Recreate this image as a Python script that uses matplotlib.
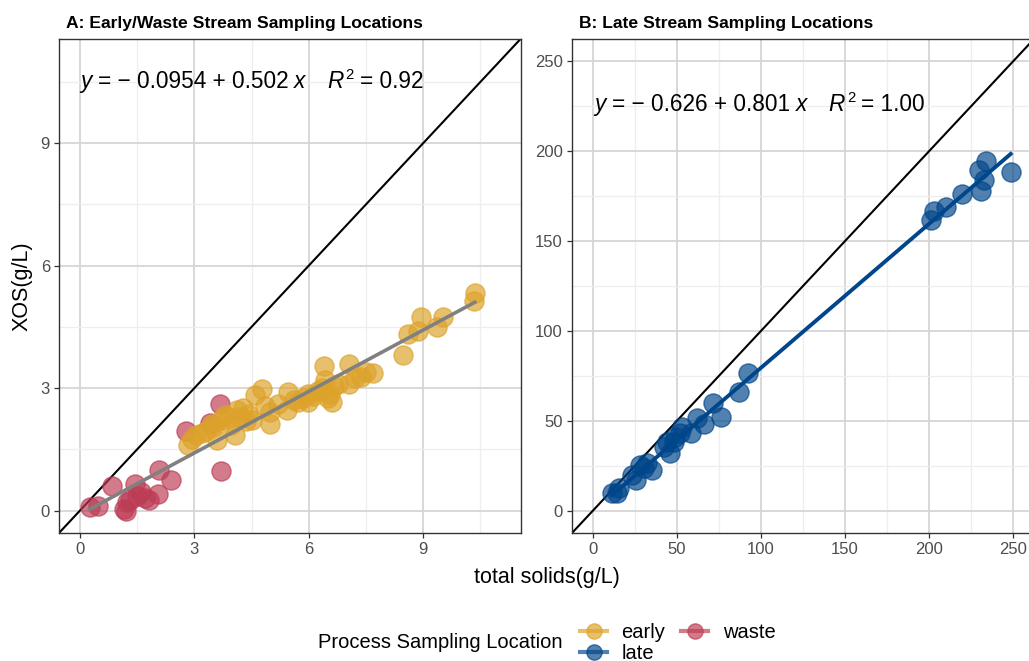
import matplotlib
matplotlib.use("Agg")
import matplotlib.pyplot as plt
from matplotlib.lines import Line2D
from matplotlib.ticker import MultipleLocator
import numpy as np

plt.rcParams['font.family'] = ['Liberation Sans', 'DejaVu Sans']

# ---- data: total solids (g/L) vs XOS (g/L) ----
early_x = [2.84, 2.93, 3.05, 3.19, 3.30, 3.45, 3.50, 3.58, 3.71, 3.80, 3.89, 3.95,
           4.06, 4.11, 4.20, 4.28, 4.35, 4.41, 4.50, 4.59, 4.76, 4.85, 4.98, 4.98,
           5.20, 5.43, 5.46, 5.60, 5.72, 5.85, 5.99, 5.99, 6.10, 6.25, 6.35, 6.40,
           6.42, 6.50, 6.55, 6.60, 6.65, 6.77, 7.05, 7.05, 7.20, 7.38, 7.50, 7.69,
           8.46, 8.59, 8.87, 8.93, 9.35, 9.51, 10.34, 10.35]
early_y = [1.60, 1.76, 1.85, 1.89, 1.95, 2.13, 2.05, 1.72, 2.21, 2.35, 2.29, 2.10,
           1.85, 2.46, 2.30, 2.50, 2.20, 2.37, 2.21, 2.82, 2.98, 2.55, 2.41, 2.13,
           2.60, 2.46, 2.90, 2.70, 2.66, 2.75, 2.66, 2.86, 2.80, 2.94, 3.00, 3.53,
           3.19, 2.75, 2.86, 2.66, 3.05, 3.11, 3.59, 3.11, 3.25, 3.27, 3.40, 3.37,
           3.81, 4.33, 4.41, 4.73, 4.49, 4.73, 5.14, 5.34]

waste_x = [0.25, 0.48, 0.83, 1.15, 1.20, 1.22, 1.30, 1.45, 1.50, 1.60, 1.70, 1.80,
           2.05, 2.07, 2.38, 2.78, 3.41, 3.67, 3.69]
waste_y = [0.08, 0.12, 0.61, 0.05, 0.00, 0.20, 0.25, 0.65, 0.35, 0.45, 0.30, 0.27,
           0.40, 0.99, 0.75, 1.94, 2.15, 2.62, 0.97]

late_x = [11.3, 14.3, 15.3, 23.2, 25.8, 28.2, 30.2, 32.2, 35.1, 42.1, 44.1, 46.1,
          48.1, 49.0, 52.0, 53.0, 58.4, 62.0, 66.3, 71.5, 75.9, 87.2, 92.1,
          201.3, 202.9, 209.9, 219.4, 229.7, 230.7, 232.7, 233.7, 248.6]
late_y = [9.6, 9.6, 12.4, 19.8, 17.0, 25.4, 23.5, 26.3, 22.6, 35.6, 38.3, 31.9,
          38.3, 41.1, 43.0, 46.7, 43.0, 51.3, 48.1, 59.6, 52.2, 66.1, 76.3,
          161.9, 167.0, 168.9, 176.3, 189.3, 177.8, 184.1, 194.8, 188.7]

# fitted models shown in the panels
fit_a = dict(intercept=-0.0954, slope=0.502, r2=0.92)
fit_b = dict(intercept=-0.626, slope=0.801, r2=1.00)

c_early = '#DDA22A'
c_waste = '#BC3C55'
c_late = '#00468B'
c_fit_a = '#808080'

W, H = 1029, 661
fig = plt.figure(figsize=(W / 100, H / 100), dpi=100)


def px_axes(l, t, r, b):
    return fig.add_axes([l / W, 1 - b / H, (r - l) / W, (b - t) / H])


axA = px_axes(59, 39, 520.5, 533)
axB = px_axes(572, 39, 1034, 533)


def style(ax, lim, major, minor):
    ax.set_xlim(*lim)
    ax.set_ylim(*lim)
    ax.xaxis.set_major_locator(MultipleLocator(major))
    ax.yaxis.set_major_locator(MultipleLocator(major))
    ax.xaxis.set_minor_locator(MultipleLocator(minor))
    ax.yaxis.set_minor_locator(MultipleLocator(minor))
    ax.grid(which='major', color='#D6D6D6', lw=1.3, zorder=0)
    ax.grid(which='minor', color='#EEEEEE', lw=0.9, zorder=0)
    ax.set_axisbelow(True)
    ax.tick_params(which='major', length=3.5, width=0.9, color='#333333',
                   labelsize=12, labelcolor='#4D4D4D', pad=3)
    ax.tick_params(which='minor', length=0)
    for s in ax.spines.values():
        s.set_color('#333333')
        s.set_linewidth(1.0)


style(axA, (-0.55, 11.55), 3, 1.5)
style(axB, (-12.5, 262.5), 50, 25)

mkw = dict(s=190, alpha=0.68, linewidths=1.0, zorder=3)


def equation(ax, x, y, f, nd, size=16.3):
    """Write 'y = b0 + b1 x   R^2 = r2' as a chain of text pieces."""
    b0 = f'{abs(f["intercept"]):.{nd}f}'
    sign = '\u2212' if f['intercept'] < 0 else '+'
    body = f'= {sign} {b0} + {f["slope"]:.3f}'
    kw = dict(fontsize=size, color='black', textcoords='offset points')
    t_y = ax.text(x, y, 'y', transform=ax.transAxes, fontsize=size, style='italic',
                  va='baseline', ha='left', color='black')
    t_b = ax.annotate(body, xy=(1, 0), xycoords=t_y, xytext=(4.5, 0), va='bottom', **kw)
    t_x = ax.annotate('x', xy=(1, 0), xycoords=t_b, xytext=(4, 0), va='bottom',
                      style='italic', **kw)
    t_r = ax.annotate('R', xy=(1, 0), xycoords=t_x, xytext=(15.5, 0), va='bottom',
                      style='italic', **kw)
    kw2 = dict(kw, fontsize=size * 0.66)
    t_2 = ax.annotate('2', xy=(1, 0), xycoords=t_r, xytext=(1.5, 7.7), va='bottom', **kw2)
    ax.annotate(f'= {f["r2"]:.2f}', xy=(1, 0), xycoords=(t_2, t_r), xytext=(4.5, 0),
                va='bottom', **kw)


# panel A
axA.axline((0, 0), slope=1, color='black', lw=1.5, zorder=2)
axA.scatter(waste_x, waste_y, color=c_waste, **mkw)
axA.scatter(early_x, early_y, color=c_early, **mkw)
all_x = early_x + waste_x
xa = np.array([min(all_x), max(all_x)])
axA.plot(xa, fit_a['intercept'] + fit_a['slope'] * xa, color=c_fit_a, lw=2.6, zorder=4)
equation(axA, 0.046, 0.901, fit_a, 4)
axA.set_title('A: Early/Waste Stream Sampling Locations', loc='left', fontsize=12.6,
              fontweight='bold', pad=8, x=0.015)

# panel B
axB.axline((0, 0), slope=1, color='black', lw=1.5, zorder=2)
axB.scatter(late_x, late_y, color=c_late, **mkw)
xb = np.array([min(late_x), max(late_x)])
axB.plot(xb, fit_b['intercept'] + fit_b['slope'] * xb, color=c_late, lw=2.8, zorder=4)
equation(axB, 0.048, 0.854, fit_b, 3)
axB.set_title('B: Late Stream Sampling Locations', loc='left', fontsize=12.6,
              fontweight='bold', pad=8, x=0.015)

# shared axis titles
fig.text(547 / W, 1 - 578 / H, 'total solids(g/L)', ha='center', va='center', fontsize=15.5)
fig.text(22 / W, 1 - 286 / H, 'XOS(g/L)', ha='center', va='center', fontsize=15.5,
         rotation=90)

# legend
fig.text(318 / W, 1 - 643 / H, 'Process Sampling Location', ha='left', va='center',
         fontsize=14.5)


def key(c, label):
    return Line2D([0], [0], color=c, lw=3, marker='o', markersize=11,
                  markerfacecolor=c, markeredgecolor=c, alpha=0.68, label=label)


handles = [key(c_early, 'early'), key(c_late, 'late'), key(c_waste, 'waste')]
fig.legend(handles=handles, ncol=2, loc='center left',
           bbox_to_anchor=(580 / W, 1 - 643 / H), frameon=False, fontsize=14.5,
           handlelength=1.35, handletextpad=0.7, columnspacing=0.8, labelspacing=0.1,
           borderpad=0, borderaxespad=0)

fig.savefig('out.png', dpi=100)
